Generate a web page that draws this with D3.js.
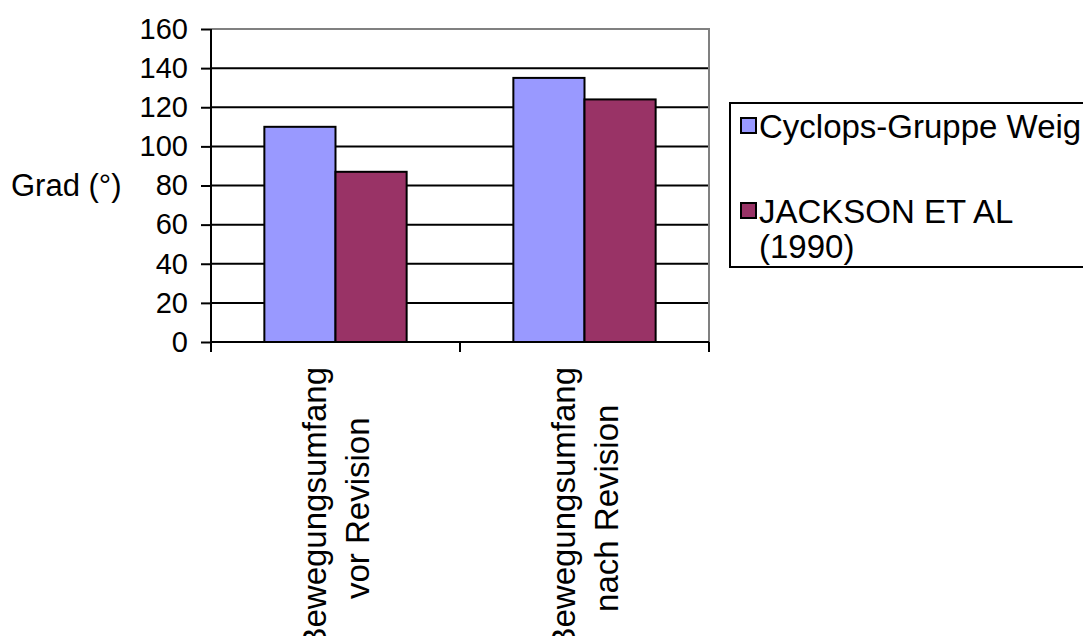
<!DOCTYPE html>
<html>
<head>
<meta charset="utf-8">
<script src="https://cdn.jsdelivr.net/npm/d3@7"></script>
<style>
  body { margin: 0; background: #fff; }
  svg { display: block; }
  text { font-family: "Liberation Sans", Arial, sans-serif; fill: #000; }
</style>
</head>
<body>
<svg id="chart" width="1083" height="636"></svg>
<script>
// Categories (each label is wrapped on two lines)
const categories = ["Bewegungsumfang vor Revision", "Bewegungsumfang nach Revision"];
const categoryLines = [["Bewegungsumfang", "vor Revision"], ["Bewegungsumfang", "nach Revision"]];

// Series
const seriesNames = ["Cyclops-Gruppe Weig", "JACKSON ET AL (1990)"];
const legendLines = [["Cyclops-Gruppe Weig"], ["JACKSON ET AL", "(1990)"]];
const cyclopsValues = [110, 135];
const jacksonValues = [87, 124];
const seriesColors = ["#9999FF", "#993366"];

// Axis
const yTicks = [0, 20, 40, 60, 80, 100, 120, 140, 160];
const yTitle = "Grad (°)";

const svg = d3.select("#chart");
const plot = { left: 211, right: 709, top: 29, bottom: 342 };

const y = d3.scaleLinear().domain([0, 160]).range([plot.bottom, plot.top]);
const x = d3.scaleBand().domain(categories).range([plot.left, plot.right]).padding(0);
const xs = d3.scaleBand().domain(seriesNames).range([0, x.bandwidth()])
  .paddingInner(0).paddingOuter(0.75);

const seriesValues = [cyclopsValues, jacksonValues];

// Gridlines (top one is the plot-area border, drawn grey)
svg.append("g").selectAll("line")
  .data(yTicks.filter(t => t > 0 && t < 160))
  .join("line")
  .attr("x1", plot.left).attr("x2", plot.right)
  .attr("y1", d => y(d)).attr("y2", d => y(d))
  .attr("stroke", "#000").attr("stroke-width", 2);

// Plot-area border (top and right, grey)
svg.append("path")
  .attr("d", `M${plot.left},${y(160)}H${plot.right}V${plot.bottom}`)
  .attr("fill", "none").attr("stroke", "#808080").attr("stroke-width", 2);

// Bars
const groups = svg.append("g").selectAll("g")
  .data(categories)
  .join("g")
  .attr("transform", d => `translate(${x(d)},0)`);

groups.selectAll("rect")
  .data((d, i) => seriesNames.map((s, j) => ({ s, v: seriesValues[j][i], c: seriesColors[j] })))
  .join("rect")
  .attr("x", d => xs(d.s))
  .attr("width", xs.bandwidth())
  .attr("y", d => y(d.v))
  .attr("height", d => y(0) - y(d.v))
  .attr("fill", d => d.c)
  .attr("stroke", "#000")
  .attr("stroke-width", 2);

// Y axis
const yAxis = svg.append("g")
  .attr("transform", `translate(${plot.left},0)`)
  .call(d3.axisLeft(y).tickValues(yTicks).tickSize(10).tickPadding(13).tickFormat(d3.format("d")));
yAxis.select(".domain").remove();
yAxis.selectAll(".tick line").attr("stroke", "#000").attr("stroke-width", 2);
yAxis.selectAll(".tick text").attr("font-size", 29).attr("font-family", '"Liberation Sans", Arial, sans-serif');
svg.append("line")
  .attr("x1", plot.left).attr("x2", plot.left)
  .attr("y1", plot.top).attr("y2", plot.bottom + 10)
  .attr("stroke", "#000").attr("stroke-width", 2);

// X axis line and boundary ticks
svg.append("line")
  .attr("x1", plot.left).attr("x2", plot.right)
  .attr("y1", plot.bottom).attr("y2", plot.bottom)
  .attr("stroke", "#000").attr("stroke-width", 2);
const boundaries = categories.map(c => x(c)).concat([x(categories[categories.length - 1]) + x.bandwidth()]);
svg.append("g").selectAll("line")
  .data(boundaries)
  .join("line")
  .attr("x1", d => d).attr("x2", d => d)
  .attr("y1", plot.bottom).attr("y2", plot.bottom + 10)
  .attr("stroke", "#000").attr("stroke-width", 2);

// Category labels, rotated, lines centred on the category
const catFont = 33, catLineGap = 43;
categories.forEach((c, i) => {
  const cx = x(c) + x.bandwidth() / 2;
  const lines = categoryLines[i];
  const g = svg.append("g");
  const t = g.append("text")
    .attr("font-size", catFont)
    .attr("text-anchor", "middle");
  lines.forEach((ln, k) => {
    t.append("tspan").attr("x", 0).attr("y", (k - (lines.length - 1) / 2) * catLineGap + catFont * 0.35).text(ln);
  });
  const longest = d3.max(t.selectAll("tspan").nodes(), n => n.getComputedTextLength());
  const cy = plot.bottom + 25 + longest / 2;
  g.attr("transform", `translate(${cx},${cy}) rotate(-90)`);
});

// Y axis title
svg.append("text")
  .attr("x", 11)
  .attr("y", (plot.top + plot.bottom) / 2)
  .attr("dy", "0.35em")
  .attr("font-size", 31)
  .text(yTitle);

// Legend
const legend = svg.append("g");
legend.append("rect")
  .attr("x", 730).attr("y", 103)
  .attr("width", 420).attr("height", 164)
  .attr("fill", "#fff").attr("stroke", "#000").attr("stroke-width", 2);
const legendRows = [126, 211];
const legendFont = 33, legendLineGap = 35;
seriesNames.forEach((s, i) => {
  const ry = legendRows[i];
  legend.append("rect")
    .attr("x", 741).attr("y", ry - 8)
    .attr("width", 15).attr("height", 15)
    .attr("fill", seriesColors[i]).attr("stroke", "#000").attr("stroke-width", 2);
  const t = legend.append("text").attr("font-size", legendFont);
  legendLines[i].forEach((ln, k) => {
    t.append("tspan").attr("x", 759).attr("y", ry + k * legendLineGap).attr("dy", "0.35em").text(ln);
  });
});
</script>
</body>
</html>
